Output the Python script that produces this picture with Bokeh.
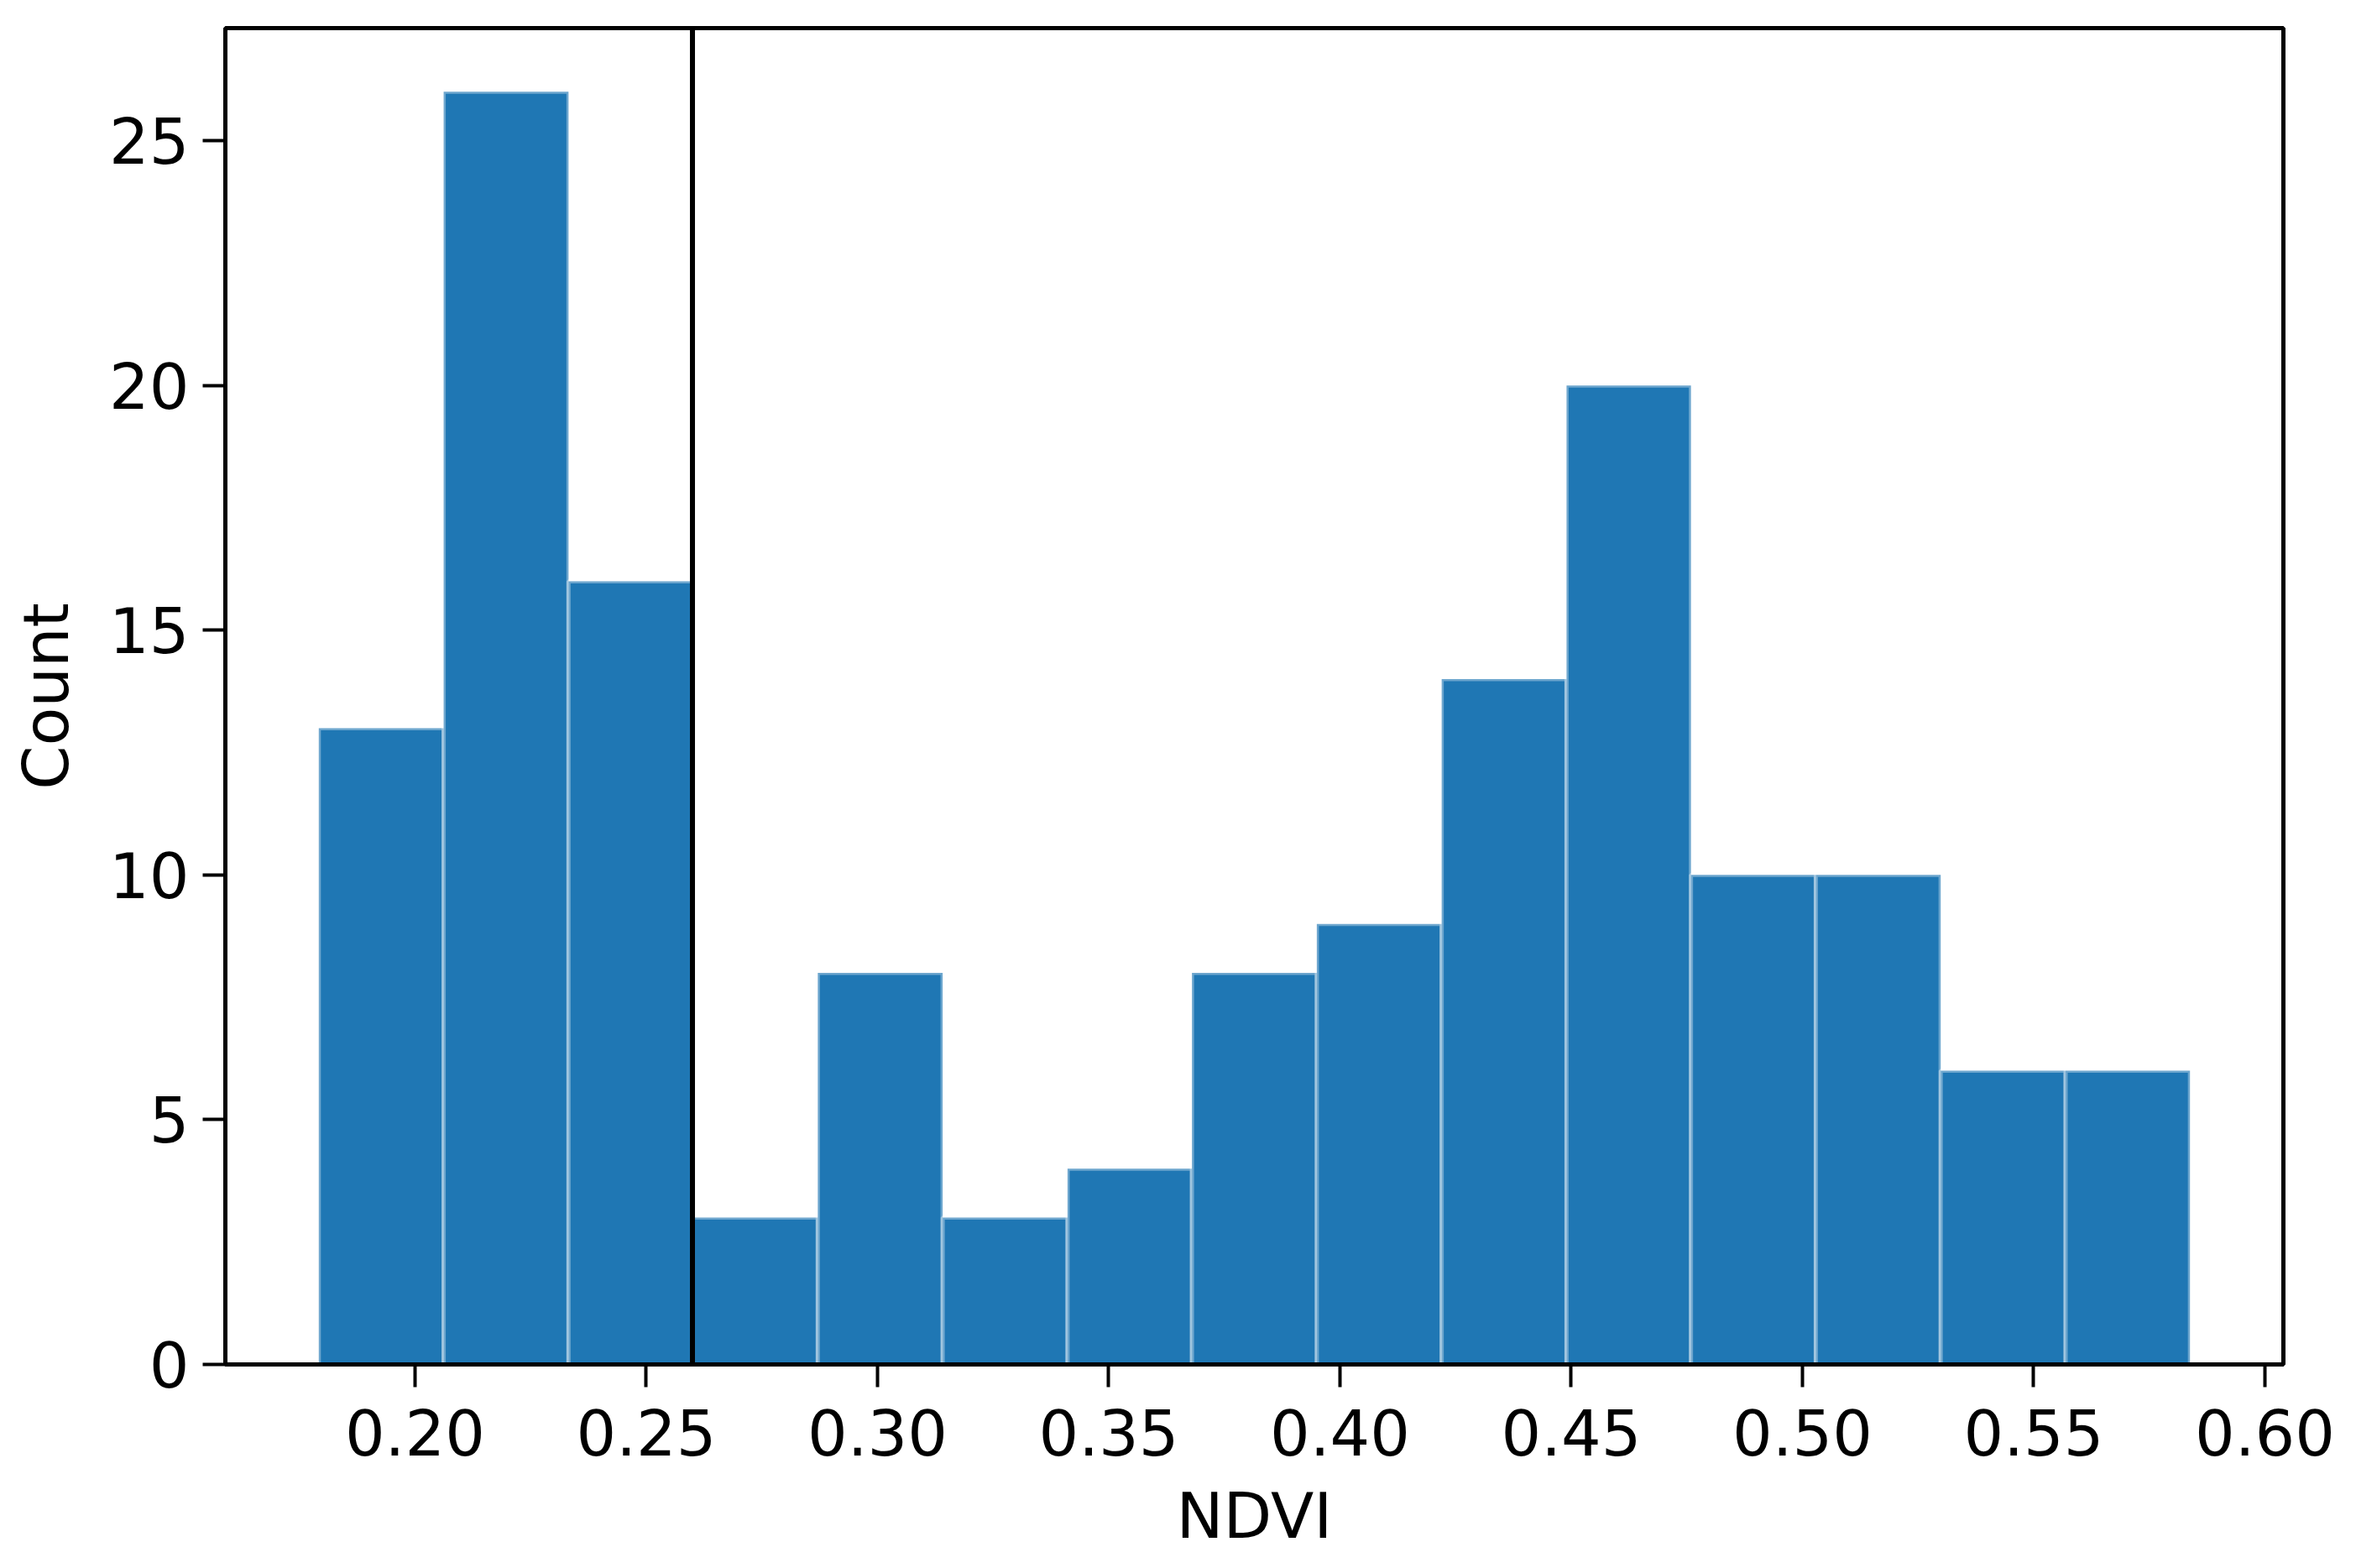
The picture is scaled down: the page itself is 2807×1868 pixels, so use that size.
from bokeh.plotting import figure
from bokeh.models import Range1d, FixedTicker, Span
from bokeh.embed import file_html
from bokeh.resources import INLINE

# Histogram bin edges (NDVI) and counts
bin_edges = [0.1792, 0.2062, 0.2332, 0.2601, 0.2871, 0.3141, 0.3411, 0.3680,
             0.3950, 0.4220, 0.4490, 0.4759, 0.5029, 0.5299, 0.5569, 0.5838]
counts = [13, 26, 16, 3, 8, 3, 4, 8, 9, 14, 20, 10, 10, 6, 6]
threshold = 0.26
x_ticks = [0.20, 0.25, 0.30, 0.35, 0.40, 0.45, 0.50, 0.55, 0.60]
y_ticks = [0, 5, 10, 15, 20, 25]

FONT = "DejaVu Sans"
FS = "75px"

p = figure(width=2790, height=1852, output_backend="svg", toolbar_location=None,
           x_range=Range1d(0.1590, 0.6040), y_range=Range1d(0, 27.3),
           min_border_left=268, min_border_right=70, min_border_top=33,
           min_border_bottom=227)

p.quad(left=bin_edges[:-1], right=bin_edges[1:], bottom=0, top=counts,
       fill_color="#1f77b4", line_color="white", line_alpha=0.35, line_width=5)

p.add_layout(Span(location=threshold, dimension="height", line_color="black",
                  line_width=6))

p.grid.visible = False
p.outline_line_color = "black"
p.outline_line_width = 5
p.outline_line_alpha = 1.0
p.background_fill_color = "white"
p.border_fill_color = "white"

for ax in (p.xaxis[0], p.yaxis[0]):
    ax.axis_line_color = "black"
    ax.axis_line_width = 5
    ax.major_tick_line_color = "black"
    ax.major_tick_line_width = 4
    ax.major_tick_out = 27
    ax.major_tick_in = 0
    ax.minor_tick_line_color = None
    ax.major_label_text_font = FONT
    ax.major_label_text_font_size = FS
    ax.major_label_text_color = "black"
    ax.axis_label_text_font = FONT
    ax.axis_label_text_font_size = FS
    ax.axis_label_text_font_style = "normal"
    ax.axis_label_text_color = "black"

p.xaxis[0].ticker = FixedTicker(ticks=x_ticks)
p.xaxis[0].major_label_overrides = {t: f"{t:.2f}" for t in x_ticks}
p.xaxis[0].axis_label = "NDVI"
p.xaxis[0].major_label_standoff = 26
p.xaxis[0].axis_label_standoff = 25

p.yaxis[0].ticker = FixedTicker(ticks=y_ticks)
p.yaxis[0].axis_label = "Count"
p.yaxis[0].major_label_standoff = 16
p.yaxis[0].axis_label_standoff = 28

open("out.html", "w").write(file_html(p, INLINE))
